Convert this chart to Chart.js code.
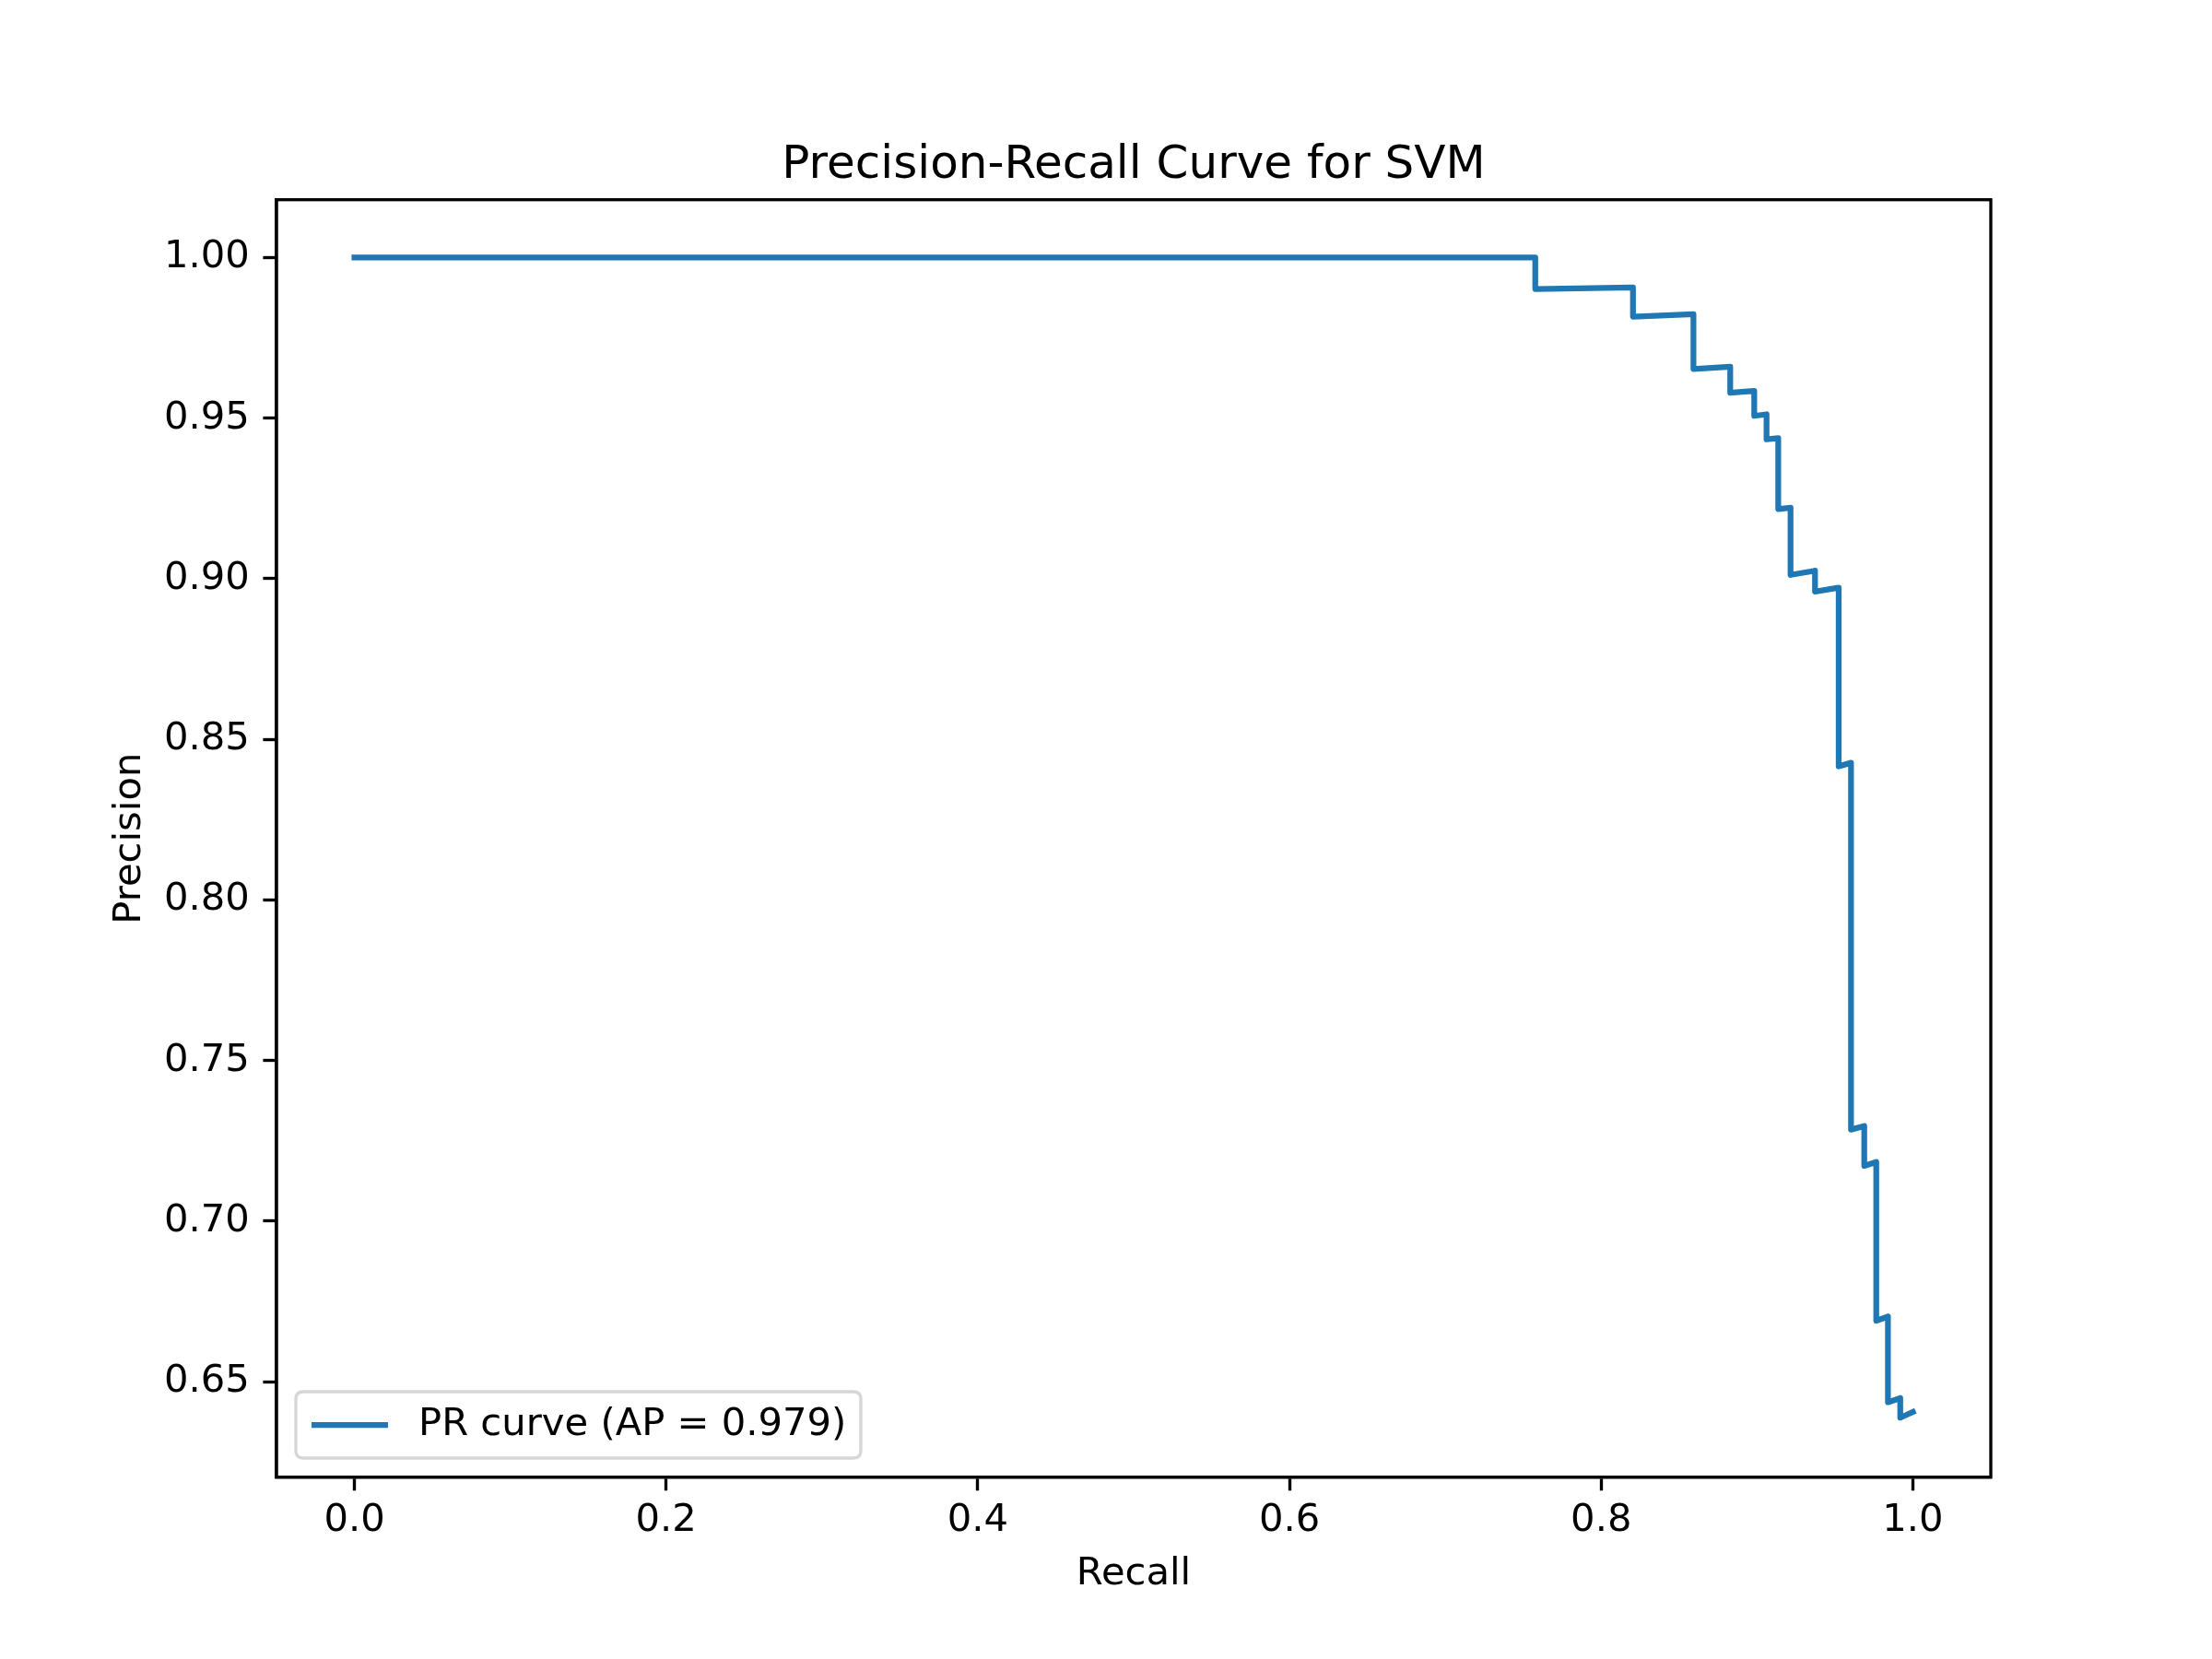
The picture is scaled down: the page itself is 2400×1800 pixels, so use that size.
<!DOCTYPE html>
<html>
<head>
<meta charset="utf-8">
<script src="https://cdn.jsdelivr.net/npm/chart.js@4.4.0/dist/chart.umd.min.js"></script>
<style>
  html, body { margin: 0; padding: 0; background: #ffffff; }
  #wrap { width: 2400px; height: 1800px; position: relative; }
</style>
</head>
<body>
<div id="wrap"><canvas id="c"></canvas></div>
<script>
// ---- data ----
const recall = [0, 0.7577, 0.7577, 0.8204, 0.8204, 0.8592, 0.8592, 0.8828, 0.8828, 0.8982, 0.8982,
  0.9061, 0.9061, 0.9136, 0.9136, 0.9215, 0.9215, 0.9372, 0.9372, 0.9524, 0.9524, 0.9603, 0.9603,
  0.9688, 0.9688, 0.9765, 0.9765, 0.9840, 0.9840, 0.9919, 0.9919, 1.0];
const precision = [1, 1, 0.9902, 0.9907, 0.9816, 0.9824, 0.9653, 0.9660, 0.9579, 0.9585, 0.9507,
  0.9512, 0.9434, 0.9438, 0.9217, 0.9221, 0.9012, 0.9025, 0.8960, 0.8972, 0.8416, 0.8427, 0.7285,
  0.7296, 0.7172, 0.7184, 0.6690, 0.6703, 0.6436, 0.6449, 0.6388, 0.6406];
const xTicks = [0.0, 0.2, 0.4, 0.6, 0.8, 1.0];
const yTicks = [0.65, 0.70, 0.75, 0.80, 0.85, 0.90, 0.95, 1.00];
const seriesLabel = 'PR curve (AP = 0.979)';
const chartTitle = 'Precision-Recall Curve for SVM';
const xLabel = 'Recall';
const yLabel = 'Precision';

const FONT = 'DejaVu Sans';
const LW = 3.33;

const frameTitleLegend = {
  id: 'frameTitleLegend',
  afterDraw(chart) {
    const ctx = chart.ctx;
    const a = chart.chartArea;
    ctx.save();
    // spines
    ctx.strokeStyle = '#000000';
    ctx.lineWidth = LW;
    ctx.strokeRect(a.left, a.top, a.right - a.left, a.bottom - a.top);
    // title centred over the plot area
    ctx.fillStyle = '#000000';
    ctx.font = '50px "' + FONT + '"';
    ctx.textAlign = 'center';
    ctx.textBaseline = 'middle';
    ctx.fillText(chart.options.plugins.title.text, (a.left + a.right) / 2, a.top - 37);
    // legend
    const ds = chart.data.datasets[0];
    const bx = a.left + 21, by = 1510, bw = 613, bh = 72, r = 8;
    ctx.beginPath();
    ctx.moveTo(bx + r, by);
    ctx.lineTo(bx + bw - r, by);
    ctx.quadraticCurveTo(bx + bw, by, bx + bw, by + r);
    ctx.lineTo(bx + bw, by + bh - r);
    ctx.quadraticCurveTo(bx + bw, by + bh, bx + bw - r, by + bh);
    ctx.lineTo(bx + r, by + bh);
    ctx.quadraticCurveTo(bx, by + bh, bx, by + bh - r);
    ctx.lineTo(bx, by + r);
    ctx.quadraticCurveTo(bx, by, bx + r, by);
    ctx.closePath();
    ctx.fillStyle = 'rgba(255,255,255,0.8)';
    ctx.fill();
    ctx.strokeStyle = '#d6d6d6';
    ctx.lineWidth = LW;
    ctx.stroke();
    const cy = by + bh / 2;
    ctx.strokeStyle = ds.borderColor;
    ctx.lineWidth = ds.borderWidth;
    ctx.lineCap = 'butt';
    ctx.beginPath();
    ctx.moveTo(bx + 17, cy);
    ctx.lineTo(bx + 100, cy);
    ctx.stroke();
    ctx.fillStyle = '#000000';
    ctx.font = '41.7px "' + FONT + '"';
    ctx.textAlign = 'left';
    ctx.textBaseline = 'middle';
    ctx.fillText(ds.label, bx + 133, cy);
    ctx.restore();
  }
};

const points = recall.map((r, i) => ({ x: r, y: precision[i] }));

new Chart(document.getElementById('c'), {
  type: 'line',
  data: {
    datasets: [{
      label: seriesLabel,
      data: points,
      borderColor: '#1f77b4',
      backgroundColor: '#1f77b4',
      borderWidth: 6.25,
      pointRadius: 0,
      tension: 0,
      fill: false,
      borderJoinStyle: 'round',
      borderCapStyle: 'square'
    }]
  },
  options: {
    responsive: true,
    maintainAspectRatio: false,
    animation: false,
    devicePixelRatio: 1,
    layout: { padding: { left: 0, right: 240, top: 216.7, bottom: 0 } },
    plugins: {
      legend: { display: false },
      tooltip: { enabled: false },
      title: { display: false, text: chartTitle }
    },
    scales: {
      x: {
        type: 'linear',
        min: -0.05,
        max: 1.05,
        afterBuildTicks: (s) => { s.ticks = xTicks.map(v => ({ value: v })); },
        afterFit: (s) => { s.height = 197.3; },
        ticks: {
          color: '#000000',
          font: { family: FONT, size: 41.7 },
          padding: 8,
          maxRotation: 0,
          autoSkip: false,
          callback: (v) => Number(v).toFixed(1)
        },
        grid: { drawOnChartArea: false, drawTicks: true, tickLength: 14.6, tickWidth: LW, tickColor: '#000000' },
        border: { display: true, color: '#000000', width: LW },
        title: {
          display: true, text: xLabel, color: '#000000',
          font: { family: FONT, size: 41.7, lineHeight: 1.2 },
          padding: { top: 66.5, bottom: 66.5 }
        }
      },
      y: {
        type: 'linear',
        min: 0.6203,
        max: 1.018,
        afterBuildTicks: (s) => { s.ticks = yTicks.map(v => ({ value: v })); },
        afterFit: (s) => { s.width = 300; },
        ticks: {
          color: '#000000',
          font: { family: FONT, size: 41.7 },
          padding: 14.6,
          autoSkip: false,
          callback: (v) => Number(v).toFixed(2)
        },
        grid: { drawOnChartArea: false, drawTicks: true, tickLength: 14.6, tickWidth: LW, tickColor: '#000000' },
        border: { display: true, color: '#000000', width: LW },
        title: {
          display: true, text: yLabel, color: '#000000',
          font: { family: FONT, size: 41.7, lineHeight: 1.2 },
          padding: { top: 116, bottom: 116 }
        }
      }
    }
  },
  plugins: [frameTitleLegend]
});
</script>
</body>
</html>
